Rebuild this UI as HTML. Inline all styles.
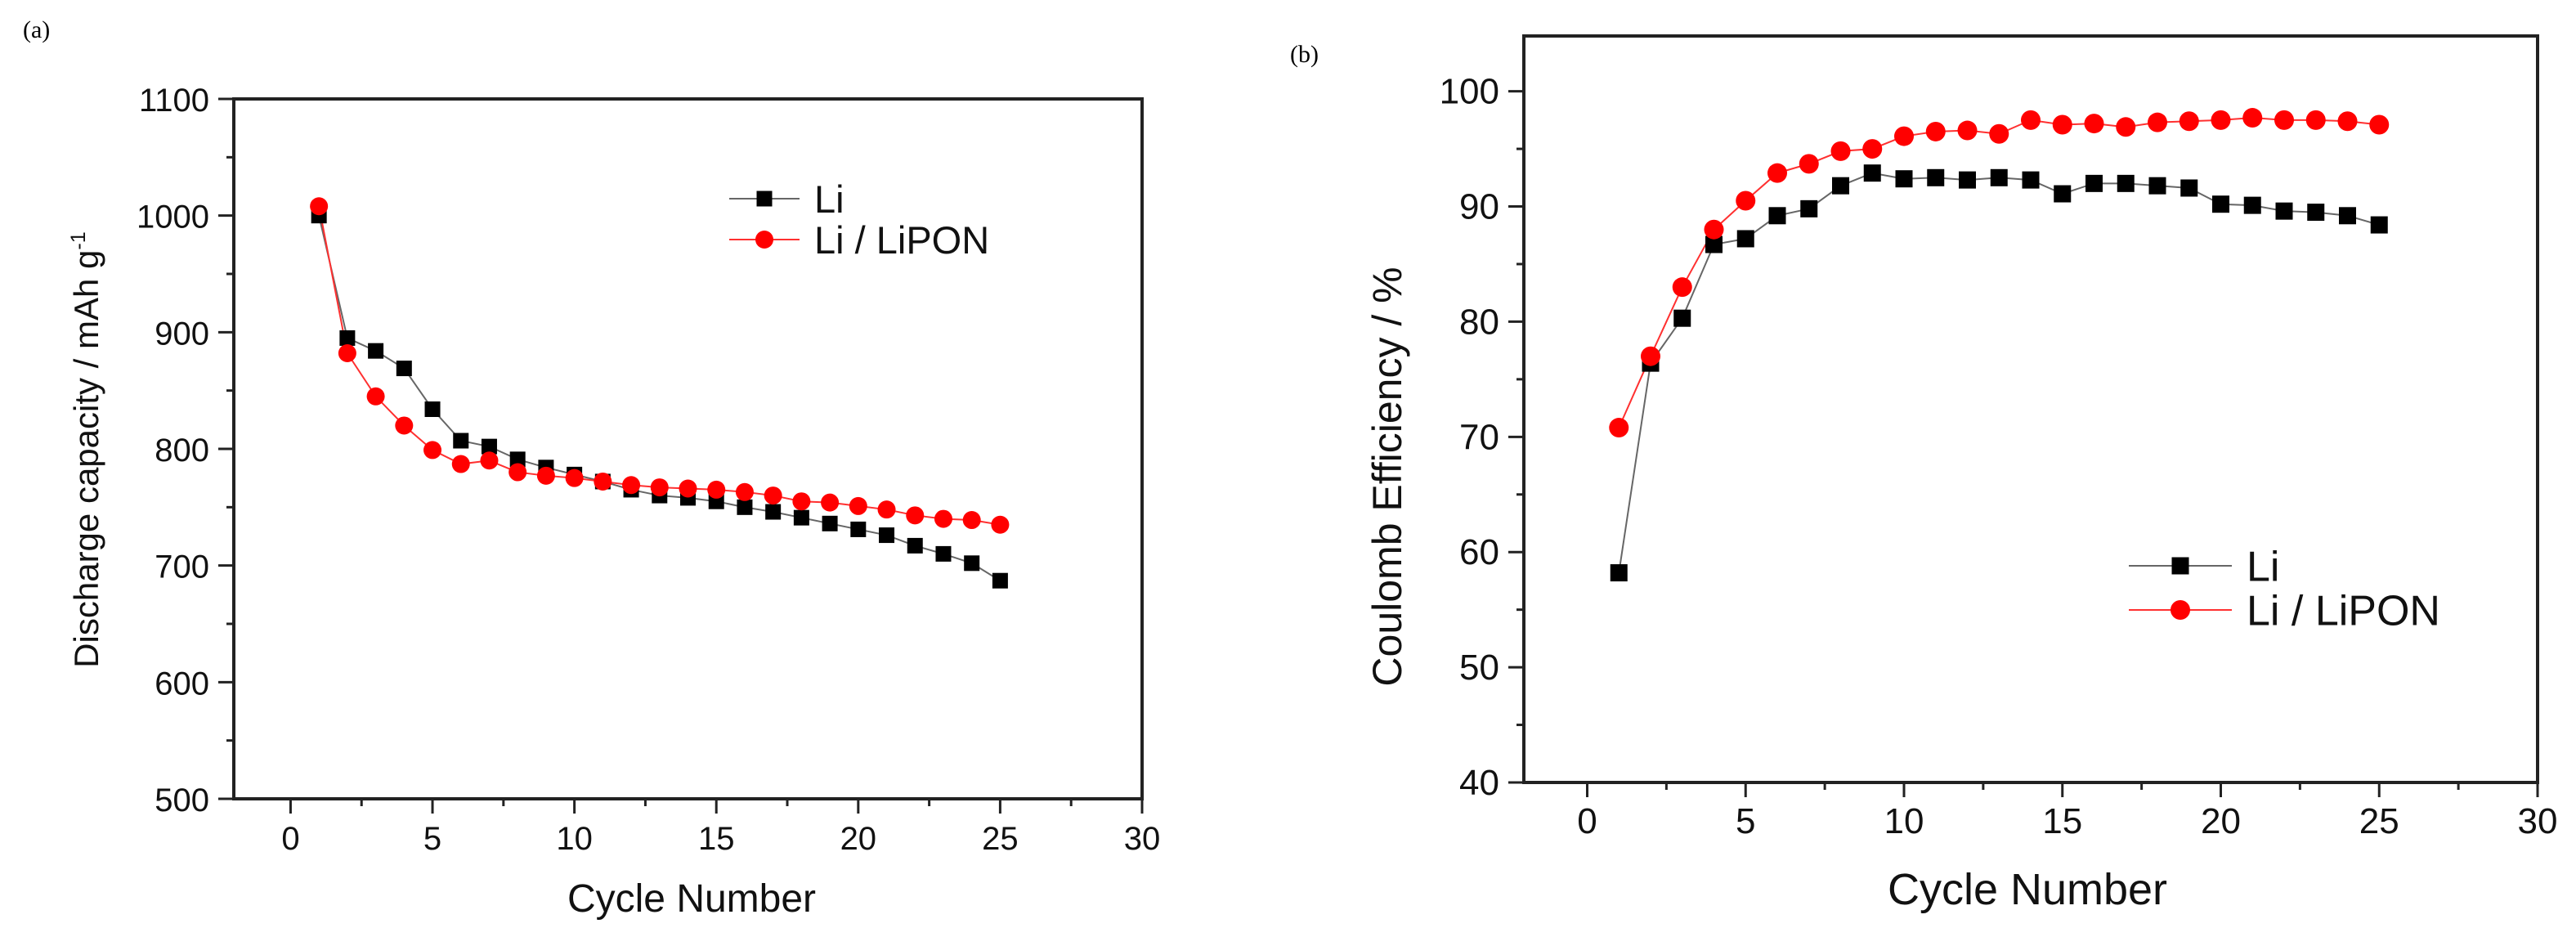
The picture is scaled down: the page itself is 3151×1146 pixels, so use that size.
<!DOCTYPE html>
<html><head><meta charset="utf-8"><style>
html,body{margin:0;padding:0;background:#fff;}
svg{display:block;font-family:"Liberation Sans",Arial,sans-serif;}
</style></head><body>
<svg id="fig" width="3151" height="1146" viewBox="0 0 3151 1146" xmlns="http://www.w3.org/2000/svg">
<text x="28" y="46" font-family="Liberation Serif, serif" font-size="30">(a)</text>
<text x="1578" y="76" font-family="Liberation Serif, serif" font-size="30">(b)</text>
<g id="chartA"></g>
<g id="chartB"></g>
</svg>
<script>
const cycles = [1,2,3,4,5,6,7,8,9,10,11,12,13,14,15,16,17,18,19,20,21,22,23,24,25];
const capLi = [1000,895,884,869,834,807,802,791,784,778,772,765,760,758,755,750,746,741,736,731,726,717,710,702,687];
const capLiPON = [1008,882,845,820,799,787,790,780,777,775,772,769,767,766,765,763,760,755,754,751,748,743,740,739,735];
const ceLi = [58.2,76.4,80.3,86.7,87.2,89.2,89.8,91.8,92.9,92.4,92.5,92.3,92.5,92.3,91.1,92.0,92.0,91.8,91.6,90.2,90.1,89.6,89.5,89.2,88.4];
const ceLiPON = [70.8,77.0,83.0,88.0,90.5,92.9,93.7,94.8,95.0,96.1,96.5,96.6,96.3,97.5,97.1,97.2,96.9,97.3,97.4,97.5,97.7,97.5,97.5,97.4,97.1];
const xTicks = [0,5,10,15,20,25,30];
const yTicksA = [500,600,700,800,900,1000,1100];
const yTicksB = [40,50,60,70,80,90,100];

const NS="http://www.w3.org/2000/svg";
function mk(parent,tag,attrs,text){const e=document.createElementNS(NS,tag);for(const k in attrs)e.setAttribute(k,attrs[k]);if(text!==undefined)e.textContent=text;parent.appendChild(e);return e;}

function drawChart(g,cfg){
  const sx=v=>cfg.x0+(v-cfg.xmin)*(cfg.x1-cfg.x0)/(cfg.xmax-cfg.xmin);
  const sy=v=>cfg.y1-(v-cfg.ymin)*(cfg.y1-cfg.y0)/(cfg.ymax-cfg.ymin);
  const frame=mk(g,'rect',{x:cfg.x0,y:cfg.y0,width:cfg.x1-cfg.x0,height:cfg.y1-cfg.y0,fill:'none',stroke:'#222','stroke-width':4});
  
  
  for(let i=0;i<xTicks.length;i++){
    const v=xTicks[i];
    const t=mk(g,'line',{x1:sx(v),x2:sx(v),y1:cfg.y1,y2:cfg.y1+18,stroke:'#222','stroke-width':3});
    
    
    if(i<xTicks.length-1){
      const m=mk(g,'line',{x1:sx(v+2.5),x2:sx(v+2.5),y1:cfg.y1,y2:cfg.y1+9,stroke:'#222','stroke-width':3});
      
      
    }
    const l=mk(g,'text',{x:sx(v),y:cfg.y1+62,'font-size':cfg.fs,'text-anchor':'middle',fill:'#111'},String(v));
    
    
  }
  const yt=cfg.yticks, step=yt[1]-yt[0];
  for(let i=0;i<yt.length;i++){
    const v=yt[i];
    const t=mk(g,'line',{x1:cfg.x0-19,x2:cfg.x0,y1:sy(v),y2:sy(v),stroke:'#222','stroke-width':3});
    
    
    if(v+step/2<=cfg.ymax){
      const m=mk(g,'line',{x1:cfg.x0-9,x2:cfg.x0,y1:sy(v+step/2),y2:sy(v+step/2),stroke:'#222','stroke-width':3});
      
      
    }
    const l=mk(g,'text',{x:cfg.x0-30,y:sy(v)+15,'font-size':cfg.fs,'text-anchor':'end',fill:'#111'},String(v));
    
    
  }
  const xt=mk(g,'text',{x:cfg.xtx,y:cfg.xty,'font-size':cfg.xfs,'text-anchor':'middle',fill:'#111'},'Cycle Number');
  
  
  const ytt=mk(g,'text',{x:0,y:0,'font-size':cfg.yfs,'text-anchor':'middle',fill:'#111',transform:`translate(${cfg.ytx},${cfg.yty}) rotate(-90)`});
  
  
  ytt.appendChild(document.createTextNode(cfg.ytitle));
  if(cfg.sup){mk(ytt,'tspan',{dy:-16,'font-size':cfg.yfs*0.6},cfg.sup);}
  const series=[{d:cfg.s1,col:'#666',mark:'sq',fill:'#000',name:'li'},{d:cfg.s2,col:'#ff3030',mark:'ci',fill:'#ff0000',name:'li-lipon'}];
  for(const s of series){
    const pts=cycles.map((c,i)=>sx(c)+','+sy(s.d[i])).join(' ');
    const pl=mk(g,'polyline',{points:pts,fill:'none',stroke:s.col,'stroke-width':2});
    
    
  }
  for(const s of series){
    for(let i=0;i<cycles.length;i++){
      let e;
      if(s.mark==='sq') e=mk(g,'rect',{x:sx(cycles[i])-cfg.ms/2,y:sy(s.d[i])-cfg.ms/2,width:cfg.ms,height:cfg.ms,fill:s.fill});
      else e=mk(g,'circle',{cx:sx(cycles[i]),cy:sy(s.d[i]),r:cfg.ms/2+1.5,fill:s.fill});
      
      
    }
  }
  const L=cfg.leg;
  const ents=[{y:L.y,col:'#666',mark:'sq',fill:'#000',label:'Li'},{y:L.y+L.dy,col:'#ff3030',mark:'ci',fill:'#ff0000',label:'Li / LiPON'}];
  for(const en of ents){
    const lg=mk(g,'g',{});
    
    
    mk(lg,'line',{x1:L.x,x2:L.x+L.w,y1:en.y,y2:en.y,stroke:en.col,'stroke-width':2});
    const cx=L.x+L.w/2;
    if(en.mark==='sq') mk(lg,'rect',{x:cx-cfg.ms/2,y:en.y-cfg.ms/2,width:cfg.ms,height:cfg.ms,fill:en.fill});
    else mk(lg,'circle',{cx:cx,cy:en.y,r:cfg.ms/2+1.5,fill:en.fill});
    mk(lg,'text',{x:L.x+L.w+18,y:en.y+L.fs*0.36,'font-size':L.fs,fill:'#111'},en.label);
  }
}
drawChart(document.getElementById('chartA'),{x0:286,x1:1397,y0:121,y1:977,xmin:-2,xmax:30,ymin:500,ymax:1100,yticks:yTicksA,
  fs:40,xfs:48,yfs:42,s1:capLi,s2:capLiPON,ms:19,xtx:846,xty:1115,ytx:120,yty:550,ytitle:'Discharge capacity / mAh g',sup:'-1',
  leg:{x:892,y:243,dy:50,w:86,fs:47}});
drawChart(document.getElementById('chartB'),{x0:1864,x1:3104,y0:44,y1:957,xmin:-2,xmax:30,ymin:40,ymax:104.8,yticks:yTicksB,
  fs:44,xfs:54,yfs:50,s1:ceLi,s2:ceLiPON,ms:21,xtx:2480,xty:1106,ytx:1714,yty:583,ytitle:'Coulomb Efficiency / %',sup:'',
  leg:{x:2604,y:692,dy:54,w:126,fs:52}});
</script>
</body></html>
